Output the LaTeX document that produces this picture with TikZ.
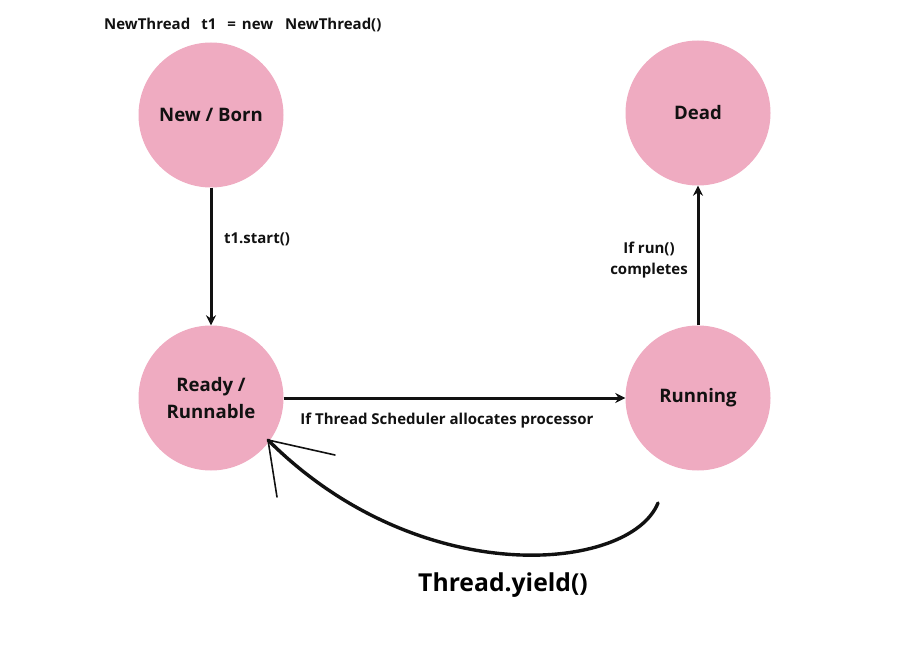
\documentclass[tikz,border=0pt]{standalone}
\usepackage{fontspec}
\setmainfont{Open Sans}
\usetikzlibrary{arrows.meta}
\definecolor{statepink}{HTML}{EFABC1}
\definecolor{ink}{HTML}{111111}
\begin{document}
\begin{tikzpicture}[x=1pt,y=-1pt,
  state/.style={circle,fill=statepink,minimum size=145pt,inner sep=0pt,align=center,font=\fontsize{18.6}{27}\selectfont\bfseries,text=ink},
  lbl/.style={font=\fontsize{15}{21}\selectfont\bfseries,text=ink,align=center,inner sep=0pt},
  conn/.style={draw=ink,line width=3pt,-{Stealth[length=10pt,width=10pt]}},
  hand/.style={draw=ink,line width=3.4pt,line cap=round}]
\useasboundingbox (0,0) rectangle (900,650);
\node[state] (new) at (211,115) {New / Born};
\node[state] (dead) at (698,113) {Dead};
\node[state] (ready) at (211,398) {Ready /\\Runnable};
\node[state] (run) at (698,398) {Running};
\node[lbl,anchor=west] (code) at (104,25) {NewThread\hspace{11pt}t1\hspace{11pt}=\hspace{6pt}new\hspace{12pt}NewThread()};
\node[lbl] (l1) at (257,239) {t1.start()};
\node[lbl] (l2) at (649,260) {If run()\\completes};
\node[lbl] (l3) at (447,421) {If Thread Scheduler allocates processor};
\draw[conn] (new) -- (ready);
\draw[conn] (run) -- (dead);
\draw[conn] (ready) -- (run);
\coordinate (ystart) at (658,503);
\coordinate (ytip) at (268,440);
\coordinate (barbA) at (335,455);
\coordinate (barbB) at (277,497);
\draw[hand] (ystart) .. controls (630,572) and (420,592) .. (ytip);
\draw[draw=ink,line width=1.6pt,line cap=round] (barbA) -- (ytip) -- (barbB);
\node[font=\fontsize{24.7}{30}\selectfont\bfseries,text=black,inner sep=0pt] (yl) at (503,585) {Thread.yield()};
\end{tikzpicture}
\end{document}
